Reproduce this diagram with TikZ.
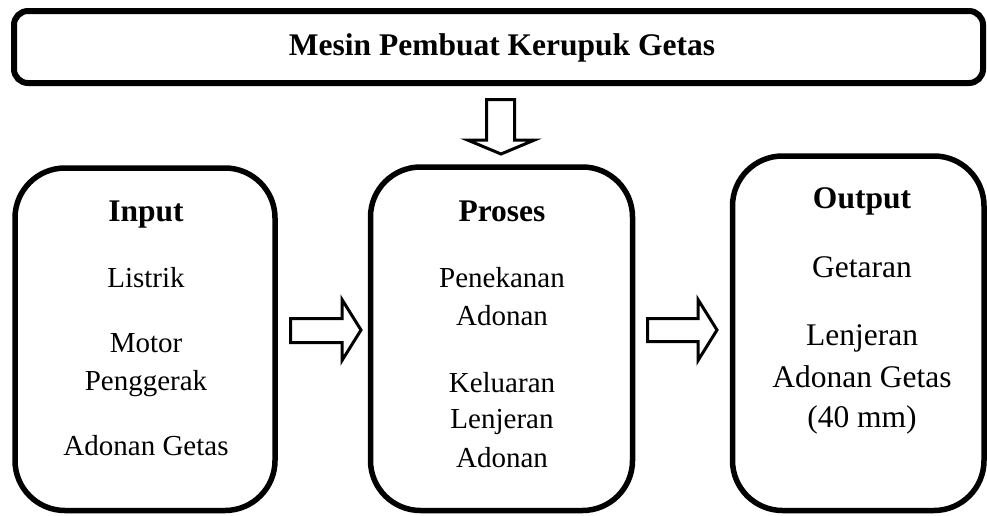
\documentclass[tikz,border=0pt]{standalone}
\usepackage{fontspec}
\setmainfont{Liberation Serif}
\begin{document}
\begin{tikzpicture}[x=1pt,y=-1pt,
  frame/.style={draw=black,line width=5.5pt,rounded corners=50pt,inner sep=0pt,outer sep=0pt},
  titleframe/.style={draw=black,line width=6pt,rounded corners=14pt,inner sep=0pt,outer sep=0pt},
  blockarrow/.style={draw=black,line width=3pt,fill=white,line join=miter},
  head/.style={anchor=base,inner sep=0pt,font=\fontsize{31.5}{36}\selectfont\bfseries},
  txt/.style={anchor=base,inner sep=0pt,font=\fontsize{29}{34}\selectfont},
  txtb/.style={anchor=base,inner sep=0pt,font=\fontsize{31.5}{36}\selectfont}]
\useasboundingbox (0,0) rectangle (987,515);

% title bar
\node[titleframe,minimum width=969pt,minimum height=72pt] (mesin) at (498.5,47) {};
\node[head] (mesinT) at (502,55) {Mesin Pembuat Kerupuk Getas};

% the three stage boxes
\node[frame,minimum width=260pt,minimum height=342.5pt] (input) at (145,339.25) {};
\node[frame,minimum width=262pt,minimum height=343.5pt] (proses) at (501.5,338.75) {};
\node[frame,minimum width=251.5pt,minimum height=354.5pt] (output) at (858.25,333.25) {};

% input texts
\node[head] (inH) at (146,221) {Input};
\node[txt] (in1) at (146,287) {Listrik};
\node[txt] (in2) at (146,352) {Motor};
\node[txt] (in3) at (146,390) {Penggerak};
\node[txt] (in4) at (146,455) {Adonan Getas};

% process texts
\node[head] (prH) at (502,221) {Proses};
\node[txt] (pr1) at (502,287) {Penekanan};
\node[txt] (pr2) at (502,325) {Adonan};
\node[txt] (pr3) at (502,392) {Keluaran};
\node[txt] (pr4) at (502,428) {Lenjeran};
\node[txt] (pr5) at (502,467) {Adonan};

% output texts
\node[head] (ouH) at (862,208) {Output};
\node[txtb] (ou1) at (862,277) {Getaran};
\node[txtb] (ou2) at (862,345) {Lenjeran};
\node[txtb] (ou3) at (862,387) {Adonan Getas};
\node[txtb] (ou4) at (862,427) {(40 mm)};

% hollow block arrows
\coordinate (down) at (501,154);
\draw[blockarrow] (486.5,99.5) -- (486.5,140) -- (467.5,140) -- (down) -- (534.5,140) -- (514.5,140) -- (514.5,99.5) -- cycle;

\coordinate (r1) at (361,330);
\draw[blockarrow] (290.5,318.5) -- (342,318.5) -- (342,299.5) -- (r1) -- (342,360.5) -- (342,342.5) -- (290.5,342.5) -- cycle;

\coordinate (r2) at (717,330);
\draw[blockarrow] (647.5,318.5) -- (698,318.5) -- (698,299.5) -- (r2) -- (698,360.5) -- (698,341.5) -- (647.5,341.5) -- cycle;
\end{tikzpicture}
\end{document}
